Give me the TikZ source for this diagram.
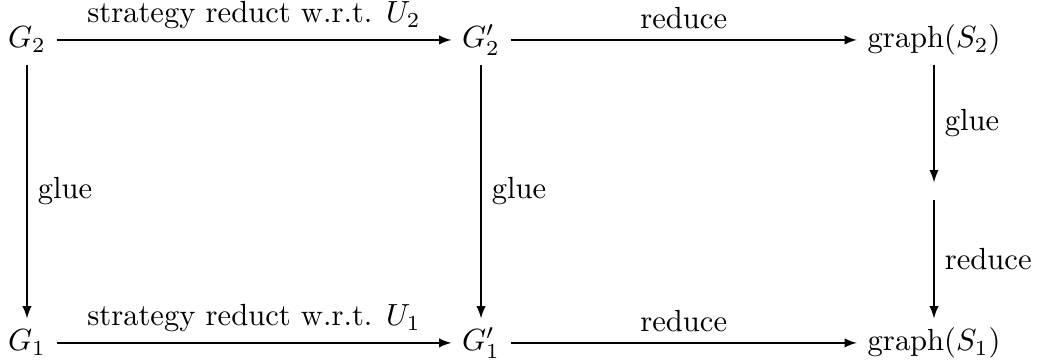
\documentclass[tikz,border=0pt]{standalone}
\usepackage{amsmath,amssymb}
\usepackage{tikz}

\begin{document}
\begin{tikzpicture}[x=1cm,y=1cm,>=latex]
\tikzset{obj/.style={text height=7pt,text depth=2pt}}
\useasboundingbox (0,0) rectangle (11.934,4.146);
\node[obj] (g2) at (0.310,3.687) {$G_2$};
\node[obj] (g2p) at (5.525,3.687) {$G_2'$};
\node[obj] (gs2) at (10.728,3.687) {$\mathrm{graph}(S_2)$};
\node[inner sep=0pt,minimum size=0.184cm] (mid) at (10.728,1.953) {};
\node[obj] (g1) at (0.310,0.207) {$G_1$};
\node[obj] (g1p) at (5.525,0.207) {$G_1'$};
\node[obj] (gs1) at (10.728,0.207) {$\mathrm{graph}(S_1)$};
\draw[->] (g2) -- node[above] {strategy reduct w.r.t. $U_2$} (g2p);
\draw[->] (g2p) -- node[above] {reduce} (gs2);
\draw[->] (g1) -- node[above] {strategy reduct w.r.t. $U_1$} (g1p);
\draw[->] (g1p) -- node[above] {reduce} (gs1);
\draw[->] (g2) -- node[right] {glue} (g1);
\draw[->] (g2p) -- node[right] {glue} (g1p);
\draw[->] (gs2) -- node[right] {glue} (mid);
\draw[->] (mid) -- node[right] {reduce} (gs1);
\end{tikzpicture}
\end{document}
